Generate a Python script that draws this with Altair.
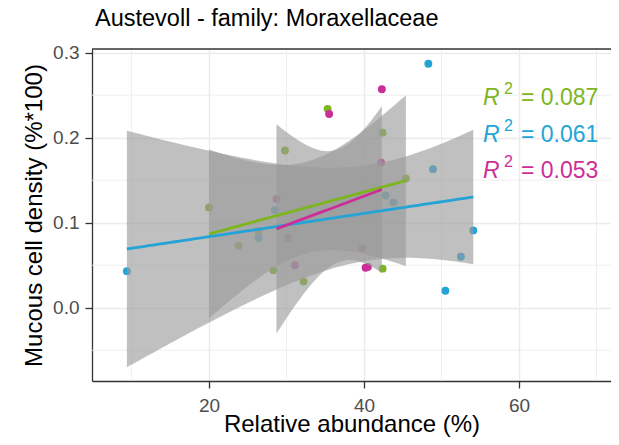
import altair as alt
import pandas as pd
import numpy as np

# ---- data ----
green_x = [20.0, 23.8, 26.4, 28.3, 29.8, 32.2, 35.3, 42.4, 42.4, 45.4]
green_y = [0.118, 0.073, 0.090, 0.044, 0.185, 0.031, 0.234, 0.206, 0.046, 0.152]
blue_x = [9.4, 26.4, 28.5, 42.8, 43.8, 48.3, 48.9, 50.5, 52.5, 54.1]
blue_y = [0.043, 0.082, 0.115, 0.132, 0.124, 0.287, 0.163, 0.020, 0.060, 0.091]
magenta_x = [28.7, 30.2, 31.1, 35.5, 39.8, 40.2, 40.5, 42.2, 42.3]
magenta_y = [0.128, 0.082, 0.050, 0.228, 0.070, 0.047, 0.048, 0.171, 0.257]

groups = ["green", "blue", "magenta"]
colors = ["#7DB51E", "#24A4D6", "#CB2F97"]
r2_values = ["0.087", "0.061", "0.053"]

x_ticks = [20, 40, 60]
x_minor = [10, 30, 50, 70]
y_ticks = [0.0, 0.1, 0.2, 0.3]
y_minor = [-0.05, 0.05, 0.15, 0.25]

title_text = "Austevoll - family: Moraxellaceae"
x_title = "Relative abundance (%)"
y_title = "Mucous cell density (%*100)"

# two-sided 95% t quantiles by residual degrees of freedom
T975 = {7: 2.365, 8: 2.306}

series = {"green": (green_x, green_y), "blue": (blue_x, blue_y), "magenta": (magenta_x, magenta_y)}

pts_rows = []
for g in groups:
    xs, ys = series[g]
    for a, b in zip(xs, ys):
        pts_rows.append({"x": a, "y": b, "group": g})
pts = pd.DataFrame(pts_rows)

# linear fit with 95% confidence band (as geom_smooth(method="lm"))
band_rows = []
for g in groups:
    xs = np.array(series[g][0]); ys = np.array(series[g][1])
    n = len(xs)
    b1, b0 = np.polyfit(xs, ys, 1)
    resid = ys - (b0 + b1 * xs)
    s = np.sqrt(np.sum(resid ** 2) / (n - 2))
    mx = xs.mean(); sxx = np.sum((xs - mx) ** 2)
    grid = np.linspace(xs.min(), xs.max(), 80)
    fit = b0 + b1 * grid
    se = s * np.sqrt(1.0 / n + (grid - mx) ** 2 / sxx)
    t = T975[n - 2]
    for gx, f, e in zip(grid, fit, se):
        band_rows.append({"x": gx, "fit": f, "lo": f - t * e, "hi": f + t * e, "group": g})
band = pd.DataFrame(band_rows)

W, H = 519, 332
FONT = "Liberation Sans"
xscale = alt.Scale(domain=[4.9, 71.87], nice=False, zero=False)
yscale = alt.Scale(domain=[-0.0862, 0.3044], nice=False, zero=False)
cscale = alt.Scale(domain=groups, range=colors)

x_axis = alt.Axis(values=x_ticks, title=x_title, grid=True, labelPadding=8, titlePadding=-3)
y_axis = alt.Axis(values=y_ticks, format=".1f", title=y_title, grid=True, labelPadding=6, titlePadding=6)

def X(field):
    return alt.X(field, type="quantitative", scale=xscale, axis=x_axis)

def Y(field):
    return alt.Y(field, type="quantitative", scale=yscale, axis=y_axis)

vminor = alt.Chart(pd.DataFrame({"x": x_minor})).mark_rule(color="#EBEBEB", strokeWidth=0.8).encode(
    x=X("x"))
hminor = alt.Chart(pd.DataFrame({"y": y_minor})).mark_rule(color="#EBEBEB", strokeWidth=0.8).encode(
    y=Y("y"))

points = alt.Chart(pts).mark_circle(size=62, opacity=1).encode(
    x=X("x"), y=Y("y"),
    color=alt.Color("group:N", scale=cscale, legend=None),
)

ribbons = alt.Chart(band).mark_area(color="#999999", opacity=0.62).encode(
    x=X("x"), y=Y("lo"), y2="hi:Q",
    detail="group:N",
)

lines = alt.Chart(band).mark_line(strokeWidth=2.8).encode(
    x=X("x"), y=Y("fit"),
    color=alt.Color("group:N", scale=cscale, legend=None),
)

top_border = alt.Chart(pd.DataFrame({"k": [0]})).mark_rule(color="#333333", strokeWidth=1.3).encode(
    x=alt.value(0), x2=alt.value(W), y=alt.value(0))

labels = []
row_y = [56, 93, 129]
for i, g in enumerate(groups):
    d = pd.DataFrame({"t": ["= " + r2_values[i]]})
    c = colors[i]
    labels.append(alt.Chart(d).mark_text(text="R", font=FONT, fontSize=23, fontStyle="italic",
                                         align="left", baseline="alphabetic", color=c).encode(
        x=alt.value(391), y=alt.value(row_y[i])))
    labels.append(alt.Chart(d).mark_text(text="2", font=FONT, fontSize=16,
                                         align="left", baseline="alphabetic", color=c).encode(
        x=alt.value(412), y=alt.value(row_y[i] - 11)))
    labels.append(alt.Chart(d).mark_text(font=FONT, fontSize=23,
                                         align="left", baseline="alphabetic", color=c).encode(
        x=alt.value(429), y=alt.value(row_y[i]), text="t:N"))

chart = alt.layer(vminor, hminor, points, ribbons, lines, top_border, *labels).properties(
    width=W, height=H,
    padding={"left": 84, "top": 41, "right": 0, "bottom": 56},
    autosize=alt.AutoSizeParams(type="none"),
    title=alt.TitleParams(title_text, anchor="start", frame="group", fontSize=23.5, font=FONT,
                          color="black", fontWeight="normal", offset=13, dx=3),
).configure_view(stroke=None).configure_axis(
    labelFont=FONT, labelFontSize=19, labelColor="#4D4D4D",
    titleFont=FONT, titleFontSize=24, titleColor="black", titleFontWeight="normal",
    tickSize=7, tickColor="#333333", tickWidth=1.3,
    domainColor="#333333", domainWidth=1.3,
    gridColor="#EBEBEB", gridWidth=1.4,
)

chart.save("out.html", embed_options={"renderer": "svg", "actions": False})
